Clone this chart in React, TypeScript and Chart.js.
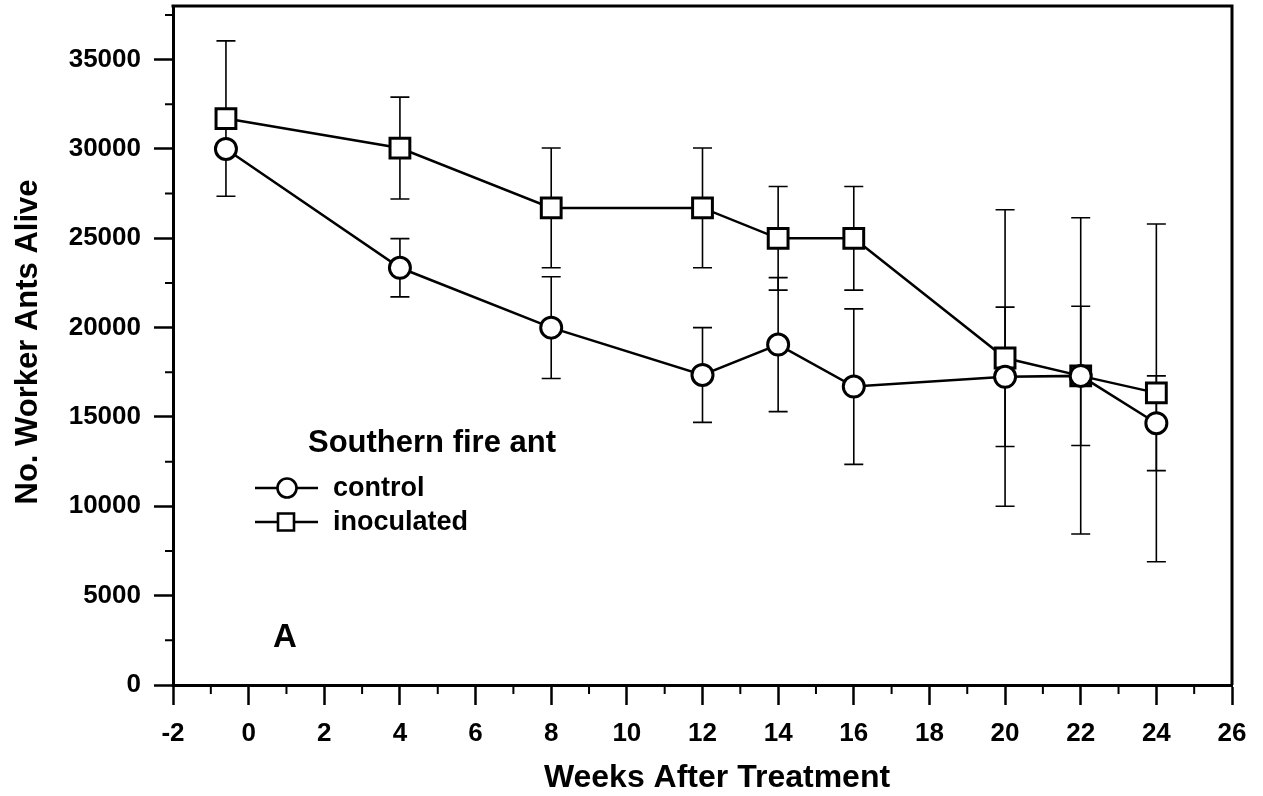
import React, { useEffect, useRef } from 'react';
import { Chart, registerables } from 'chart.js';

Chart.register(...registerables);

// ---- data ----
const weeks = [-0.6, 4, 8, 12, 14, 16, 20, 22, 24];
const controlMeans = [30000, 23350, 20000, 17350, 19050, 16700, 17250, 17300, 14650];
const controlErrors = [0, 1630, 2850, 2650, 3750, 4350, 3900, 3900, 2650];
const inoculatedMeans = [31700, 30050, 26700, 26700, 25000, 25000, 18300, 17300, 16350];
const inoculatedErrors = [4350, 2850, 3350, 3350, 2900, 2900, 8300, 8850, 9450];

const seriesNames = ['control', 'inoculated'];
const legendTitle = 'Southern fire ant';
const panelLabel = 'A';
const xTitle = 'Weeks After Treatment';
const yTitle = 'No. Worker Ants Alive';

const yTickValues = [0, 5000, 10000, 15000, 20000, 25000, 30000, 35000];
const xMinorTicks = [-1, 1, 3, 5, 7, 9, 11, 13, 15, 17, 19, 21, 23, 25];
const yMinorTicks = [2500, 7500, 12500, 17500, 22500, 27500, 32500, 37500];

const FONT = '"Liberation Sans", Arial, Helvetica, sans-serif';

const decorPlugin = {
  id: 'decor',
  beforeDatasetsDraw(chart: any) {
    const { ctx, scales } = chart;
    const xs = scales.x;
    const ys = scales.y;
    ctx.save();
    ctx.strokeStyle = '#000';
    ctx.lineWidth = 1.6;
    chart.data.datasets.forEach((ds: any) => {
      const errs: number[] = ds.errors || [];
      ds.data.forEach((p: any, i: number) => {
        const e = errs[i];
        if (!e) return;
        const px = xs.getPixelForValue(p.x);
        const top = ys.getPixelForValue(p.y + e);
        const bot = ys.getPixelForValue(p.y - e);
        ctx.beginPath();
        ctx.moveTo(px, top);
        ctx.lineTo(px, bot);
        ctx.moveTo(px - 9.5, top);
        ctx.lineTo(px + 9.5, top);
        ctx.moveTo(px - 9.5, bot);
        ctx.lineTo(px + 9.5, bot);
        ctx.stroke();
      });
    });
    ctx.restore();
  },
  afterDraw(chart: any) {
    const { ctx, chartArea, scales } = chart;
    const xs = scales.x;
    const ys = scales.y;
    const { left, right, top, bottom } = chartArea;
    ctx.save();
    ctx.strokeStyle = '#000';
    ctx.fillStyle = '#000';

    // frame top & right
    ctx.lineWidth = 3;
    ctx.beginPath();
    ctx.moveTo(left - 1.5, top);
    ctx.lineTo(right, top);
    ctx.moveTo(right, top - 1.5);
    ctx.lineTo(right, bottom);
    ctx.stroke();

    // minor ticks
    ctx.lineWidth = 2;
    ctx.beginPath();
    xMinorTicks.forEach((v) => {
      const px = xs.getPixelForValue(v);
      ctx.moveTo(px, bottom);
      ctx.lineTo(px, bottom + 9);
    });
    yMinorTicks.forEach((v) => {
      const py = ys.getPixelForValue(v);
      ctx.moveTo(left, py);
      ctx.lineTo(left - 8, py);
    });
    ctx.stroke();

    // axis titles
    ctx.font = `bold 32px ${FONT}`;
    ctx.textAlign = 'center';
    ctx.textBaseline = 'alphabetic';
    ctx.fillText(xTitle, 717, 787);

    ctx.save();
    ctx.translate(37, 342);
    ctx.rotate(-Math.PI / 2);
    ctx.font = `bold 31px ${FONT}`;
    ctx.textAlign = 'center';
    ctx.textBaseline = 'alphabetic';
    ctx.fillText(yTitle, 0, 0);
    ctx.restore();

    // panel label
    ctx.font = `bold 33px ${FONT}`;
    ctx.textAlign = 'left';
    ctx.textBaseline = 'alphabetic';
    ctx.fillText(panelLabel, 273, 647);

    // legend
    ctx.font = `bold 31px ${FONT}`;
    ctx.fillText(legendTitle, 308, 452);

    const rows = [488, 522];
    ctx.font = `bold 27px ${FONT}`;
    chart.data.datasets.forEach((ds: any, i: number) => {
      const cy = rows[i];
      ctx.lineWidth = 2.5;
      ctx.beginPath();
      ctx.moveTo(255, cy);
      ctx.lineTo(318, cy);
      ctx.stroke();
      ctx.fillStyle = '#fff';
      ctx.lineWidth = 2.6;
      ctx.beginPath();
      if (ds.pointStyle === 'rect') {
        ctx.rect(286 - 8, cy - 8.5, 16, 17);
      } else {
        ctx.arc(287, cy, 9.5, 0, Math.PI * 2);
      }
      ctx.fill();
      ctx.stroke();
      ctx.fillStyle = '#000';
      ctx.fillText(seriesNames[i], 333, cy + 8);
    });

    ctx.restore();
  },
};

export default function App() {
  const canvasRef = useRef<HTMLCanvasElement | null>(null);

  useEffect(() => {
    const canvas = canvasRef.current;
    if (!canvas) return;
    const chart = new Chart(canvas, {
      type: 'line',
      data: {
        datasets: [
          {
            label: seriesNames[0],
            data: weeks.map((w, i) => ({ x: w, y: controlMeans[i] })),
            errors: controlErrors,
            borderColor: '#000',
            borderWidth: 2.5,
            backgroundColor: '#fff',
            pointStyle: 'circle',
            pointRadius: 10.5,
            pointBorderWidth: 3,
            pointBackgroundColor: '#fff',
            pointBorderColor: '#000',
            tension: 0,
          } as any,
          {
            label: seriesNames[1],
            data: weeks.map((w, i) => ({ x: w, y: inoculatedMeans[i] })),
            errors: inoculatedErrors,
            borderColor: '#000',
            borderWidth: 2.5,
            backgroundColor: '#fff',
            pointStyle: 'rect',
            pointRadius: 14,
            pointBorderWidth: 3,
            pointBackgroundColor: '#fff',
            pointBorderColor: '#000',
            tension: 0,
          } as any,
        ],
      },
      options: {
        animation: false,
        responsive: true,
        maintainAspectRatio: false,
        layout: { autoPadding: false, padding: { top: 6, right: 31, left: 0, bottom: 0 } },
        plugins: {
          legend: { display: false },
          tooltip: { enabled: false },
        },
        scales: {
          x: {
            type: 'linear',
            min: -2,
            max: 26,
            ticks: {
              stepSize: 2,
              color: '#000',
              font: { family: FONT, weight: 'bold', size: 26 },
              padding: 13,
              maxRotation: 0,
              autoSkip: false,
            },
            grid: {
              display: true,
              drawOnChartArea: false,
              drawTicks: true,
              tickLength: 20,
              tickWidth: 2.5,
              tickColor: '#000',
              color: '#000',
            },
            border: { display: true, color: '#000', width: 3 },
            afterFit: (s: any) => {
              s.height = 111;
              s.paddingLeft = 0;
              s.paddingRight = 0;
            },
          },
          y: {
            type: 'linear',
            min: 0,
            max: 38000,
            ticks: {
              color: '#000',
              font: { family: FONT, weight: 'bold', size: 26, lineHeight: 0.4 },
              padding: 13,
              autoSkip: false,
              callback: (v: any) => String(v),
            },
            afterBuildTicks: (s: any) => {
              s.ticks = yTickValues.map((v) => ({ value: v }));
            },
            grid: {
              display: true,
              drawOnChartArea: false,
              drawTicks: true,
              tickLength: 19,
              tickWidth: 2.5,
              tickColor: '#000',
              color: '#000',
            },
            border: { display: true, color: '#000', width: 3 },
            afterFit: (s: any) => {
              s.width = 173;
              s.paddingTop = 0;
              s.paddingBottom = 0;
            },
          },
        },
      } as any,
      plugins: [decorPlugin],
    });
    return () => chart.destroy();
  }, []);

  return (
    <div
      style={{
        position: 'fixed',
        left: 0,
        top: 0,
        width: 1263,
        height: 796,
        background: '#fff',
      }}
    >
      <canvas ref={canvasRef} />
    </div>
  );
}
